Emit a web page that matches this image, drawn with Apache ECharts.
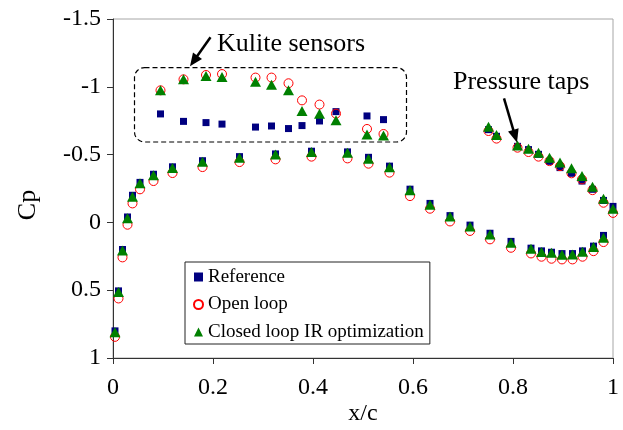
<!DOCTYPE html>
<html>
<head>
<meta charset="utf-8">
<script src="https://cdn.jsdelivr.net/npm/echarts@6/dist/echarts.min.js"></script>
<style>
  html, body { margin: 0; padding: 0; background: #fff; }
  #chart { width: 623px; height: 430px; }
</style>
</head>
<body>
<div id="chart"></div>
<script>
// Chordwise stations (x/c) of the Kulite sensors on the suction side
const kuliteX      = [0.095, 0.141, 0.186, 0.218, 0.285, 0.317, 0.351, 0.378, 0.413, 0.446, 0.508, 0.541];
const kuliteRef    = [-0.800, -0.745, -0.736, -0.725, -0.703, -0.711, -0.692, -0.714, -0.748, -0.817, -0.785, -0.758];
const kuliteOpen   = [-0.974, -1.055, -1.087, -1.094, -1.068, -1.068, -1.026, -0.900, -0.869, -0.802, -0.689, -0.652];
const kuliteClosed = [-0.974, -1.055, -1.080, -1.072, -1.038, -1.016, -0.974, -0.821, -0.802, -0.753, -0.649, -0.640];

// Pressure taps running from the leading edge round to the trailing edge
const tapLowerX      = [0.004, 0.011, 0.019, 0.029, 0.039, 0.054, 0.081, 0.119, 0.179, 0.253, 0.325, 0.397, 0.469, 0.511, 0.553,
                        0.594, 0.634, 0.674, 0.714, 0.754, 0.796, 0.836, 0.857, 0.877, 0.898, 0.919, 0.939, 0.961, 0.981, 1.000];
const tapLowerRef    = [0.800, 0.505, 0.200, -0.040, -0.200, -0.295, -0.355, -0.410, -0.455, -0.485, -0.505, -0.525, -0.520, -0.480, -0.415,
                        -0.245, -0.140, -0.050, 0.020, 0.080, 0.140, 0.190, 0.210, 0.220, 0.230, 0.230, 0.210, 0.175, 0.096, -0.118];
const tapLowerOpen   = [0.844, 0.561, 0.258, 0.017, -0.140, -0.244, -0.305, -0.364, -0.408, -0.445, -0.465, -0.485, -0.472, -0.433, -0.367,
                        -0.194, -0.101, -0.007, 0.063, 0.125, 0.187, 0.229, 0.253, 0.268, 0.273, 0.273, 0.253, 0.212, 0.145, -0.070];
const tapLowerClosed = [0.810, 0.514, 0.207, -0.030, -0.190, -0.288, -0.347, -0.401, -0.448, -0.477, -0.500, -0.519, -0.514, -0.470, -0.406,
                        -0.238, -0.131, -0.044, 0.030, 0.089, 0.150, 0.194, 0.219, 0.224, 0.238, 0.236, 0.216, 0.182, 0.113, -0.101];

// Pressure taps on the aft suction side
const tapUpperX      = [0.751, 0.767, 0.809, 0.831, 0.851, 0.873, 0.894, 0.917, 0.938, 0.959, 0.981];
const tapUpperRef    = [-0.684, -0.635, -0.561, -0.537, -0.502, -0.450, -0.404, -0.362, -0.305, -0.244, -0.162];
const tapUpperOpen   = [-0.674, -0.618, -0.551, -0.519, -0.485, -0.452, -0.415, -0.362, -0.317, -0.238, -0.145];
const tapUpperClosed = [-0.706, -0.644, -0.568, -0.544, -0.514, -0.477, -0.441, -0.399, -0.342, -0.263, -0.175];

const seriesNames = ['Reference', 'Open loop', 'Closed loop IR optimization'];
const xTicks = [0, 0.2, 0.4, 0.6, 0.8, 1];
const yTicks = [-1.5, -1, -0.5, 0, 0.5, 1];

const FONT = 'Liberation Serif, Times New Roman, serif';

function pairs(xs, ys) { return xs.map((x, i) => [x, ys[i]]); }
function join() {
  const out = [];
  for (let i = 0; i < arguments.length; i += 2) out.push(...pairs(arguments[i], arguments[i + 1]));
  return out;
}

const refData    = join(tapLowerX, tapLowerRef, tapUpperX, tapUpperRef, kuliteX, kuliteRef);
const openData   = join(tapLowerX, tapLowerOpen, tapUpperX, tapUpperOpen, kuliteX, kuliteOpen);
const closedData = join(tapLowerX, tapLowerClosed, tapUpperX, tapUpperClosed, kuliteX, kuliteClosed);

const chart = echarts.init(document.getElementById('chart'), null, { renderer: 'canvas' });

chart.setOption({
  animation: false,
  backgroundColor: '#fff',
  grid: { left: 113, right: 10, top: 19, bottom: 72, show: true, borderColor: '#a6a6a6', borderWidth: 1, backgroundColor: 'transparent' },
  xAxis: {
    type: 'value', min: xTicks[0], max: xTicks[xTicks.length - 1], interval: 0.2,
    axisLine: { onZero: false, lineStyle: { color: '#333', width: 1 } },
    axisTick: { show: true, inside: false, length: 6, lineStyle: { color: '#333' } },
    splitLine: { show: false },
    axisLabel: { color: '#000', fontFamily: FONT, fontSize: 24, margin: 18,
                 formatter: v => String(+v.toFixed(1)) }
  },
  yAxis: {
    type: 'value', inverse: true, min: yTicks[0], max: yTicks[yTicks.length - 1], interval: 0.5,
    axisLine: { show: true, onZero: false, lineStyle: { color: '#333', width: 1 } },
    axisTick: { show: true, inside: false, length: 6, lineStyle: { color: '#333' } },
    splitLine: { show: false },
    axisLabel: { color: '#000', fontFamily: FONT, fontSize: 24, margin: 12,
                 formatter: v => String(+v.toFixed(1)) }
  },
  legend: {
    left: 185, top: 262, orient: 'vertical',
    padding: [5, 6, 2, 8],
    itemWidth: 9, itemHeight: 9, itemGap: 7.5,
    borderColor: '#222', borderWidth: 1, backgroundColor: '#fff',
    textStyle: { color: '#000', fontFamily: FONT, fontSize: 19, lineHeight: 20 },
    data: seriesNames
  },
  series: [
    { name: seriesNames[0], type: 'scatter', symbol: 'rect', symbolSize: 7,
      itemStyle: { color: '#000080', opacity: 1 }, data: refData, z: 2 },
    { name: seriesNames[1], type: 'scatter', symbol: 'circle', symbolSize: 9,
      itemStyle: { color: 'rgba(255,255,255,0)', borderColor: '#ff0000', borderWidth: 1, opacity: 1 }, data: openData, z: 3 },
    { name: seriesNames[2], type: 'scatter', symbol: 'triangle', symbolSize: [11, 10],
      itemStyle: { color: '#008000', opacity: 1 }, data: closedData, z: 4 }
  ]
});

// Annotations, positioned in data coordinates and converted through the axes
function px(p) { return chart.convertToPixel({ gridIndex: 0 }, p); }

function arrow(tail, tip) {
  const a = px(tail), b = px(tip);
  const dx = b[0] - a[0], dy = b[1] - a[1];
  const len = Math.hypot(dx, dy), ux = dx / len, uy = dy / len;
  const headLen = 13, headHalf = 5.5;
  const base = [b[0] - ux * headLen, b[1] - uy * headLen];
  return [
    { type: 'line', shape: { x1: a[0], y1: a[1], x2: base[0] + ux * 2, y2: base[1] + uy * 2 },
      style: { stroke: '#000', lineWidth: 2.5 }, z: 10 },
    { type: 'polygon', shape: { points: [b, [base[0] - uy * headHalf, base[1] + ux * headHalf], [base[0] + uy * headHalf, base[1] - ux * headHalf]] },
      style: { fill: '#000' }, z: 10 }
  ];
}

const boxTL = px([0.043, -1.142]), boxBR = px([0.587, -0.593]);
const kuliteLabel = px([0.208, -1.314]);
const tapsLabel = px([0.680, -1.033]);

chart.setOption({
  graphic: [
    { type: 'rect', shape: { x: boxTL[0], y: boxTL[1], width: boxBR[0] - boxTL[0], height: boxBR[1] - boxTL[1], r: 10 },
      style: { fill: 'none', stroke: '#000', lineWidth: 1.2, lineDash: [5, 3] }, z: 1 },
    ...arrow([0.195, -1.365], [0.154, -1.151]),
    ...arrow([0.782, -0.915], [0.808, -0.590]),
    { type: 'text', x: kuliteLabel[0], y: kuliteLabel[1],
      style: { text: 'Kulite sensors', fill: '#000', font: '26px ' + FONT, textAlign: 'left', textVerticalAlign: 'middle' }, z: 10 },
    { type: 'text', x: tapsLabel[0], y: tapsLabel[1],
      style: { text: 'Pressure taps', fill: '#000', font: '26px ' + FONT, textAlign: 'left', textVerticalAlign: 'middle' }, z: 10 },
    { type: 'text', x: 28, y: 205, rotation: Math.PI / 2,
      style: { text: 'Cp', fill: '#000', font: '26px ' + FONT, textAlign: 'center', textVerticalAlign: 'middle' }, z: 10 },
    { type: 'text', x: 363, y: 414,
      style: { text: 'x/c', fill: '#000', font: '24px ' + FONT, textAlign: 'center', textVerticalAlign: 'middle' }, z: 10 }
  ]
});
</script>
</body>
</html>
